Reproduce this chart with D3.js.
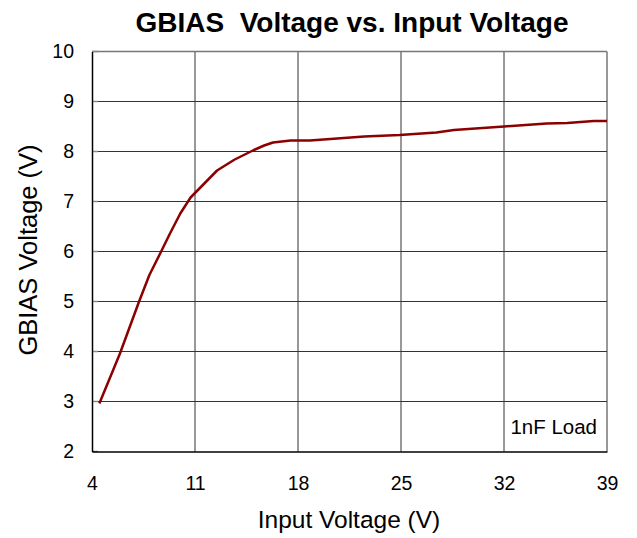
<!DOCTYPE html>
<html>
<head>
<meta charset="utf-8">
<script src="https://cdn.jsdelivr.net/npm/d3@7"></script>
<style>
  body { margin: 0; background: #fff; }
  text { font-family: Arial, "Liberation Sans", sans-serif; fill: #000; }
</style>
</head>
<body>
<div class="chart-wrapper"></div>
<script>
// values
const inputVoltage = [4.5, 5.9, 7.2, 7.9, 8.7, 9.3, 10.0, 10.7, 12.5, 13.7, 15.0, 15.7, 16.3, 17.5, 18.8, 20.2, 22.5, 24.9, 27.4, 28.6, 32.0, 34.9, 36.3, 38.1, 39.0]
const gbiasVoltage = [2.96, 3.96, 5.0, 5.53, 6.0, 6.36, 6.76, 7.08, 7.62, 7.84, 8.03, 8.12, 8.18, 8.22, 8.22, 8.25, 8.30, 8.33, 8.38, 8.43, 8.50, 8.56, 8.57, 8.61, 8.61]
const xTicks = [4, 11, 18, 25, 32, 39]
const yTicks = [2, 3, 4, 5, 6, 7, 8, 9, 10]

const W = 637, H = 538
const margin = {top: 51.5, right: 30, bottom: 86.5, left: 92}
const width = W - margin.left - margin.right
const height = H - margin.top - margin.bottom

let svg = d3.select('.chart-wrapper').append('svg')
.attr('width', W)
.attr('height', H)

let x = d3.scaleLinear().domain([4, 39]).range([0, width])
let y = d3.scaleLinear().domain([2, 10]).range([height, 0])

let g = svg.append('g')
.attr('transform', `translate(${margin.left},${margin.top})`)

// grid
g.append('g')
.selectAll('line')
.data(xTicks.slice(1))
.enter()
.append('line')
.attr('x1', d => x(d)).attr('x2', d => x(d))
.attr('y1', 0).attr('y2', height)
.attr('stroke', '#333')
.attr('stroke-width', 1)

g.append('g')
.selectAll('line')
.data(yTicks.slice(1, -1))
.enter()
.append('line')
.attr('x1', 0).attr('x2', width)
.attr('y1', d => y(d)).attr('y2', d => y(d))
.attr('stroke', '#333')
.attr('stroke-width', 1)

// top border
g.append('line')
.attr('x1', 0).attr('x2', width)
.attr('y1', 0).attr('y2', 0)
.attr('stroke', '#777')
.attr('stroke-width', 1.5)

// small inner tick marks on the left axis
g.append('g')
.selectAll('line')
.data(yTicks)
.enter()
.append('line')
.attr('x1', 0).attr('x2', 6)
.attr('y1', d => y(d)).attr('y2', d => y(d))
.attr('stroke', '#888')
.attr('stroke-width', 1.5)

// axes
let yAxis = g.append('g')
.call(d3.axisLeft(y).tickValues(yTicks).tickSize(0).tickPadding(18).tickFormat(d3.format('d')))
yAxis.select('.domain').attr('stroke', '#000').attr('stroke-width', 1.5)
yAxis.selectAll('text').style('font-size', '19.5px').attr('font-family', null)

let xAxis = g.append('g')
.attr('transform', `translate(0,${height})`)
.call(d3.axisBottom(x).tickValues(xTicks).tickSize(0).tickPadding(25).tickFormat(d3.format('d')))
xAxis.select('.domain').attr('stroke', '#000').attr('stroke-width', 1.5)
xAxis.selectAll('text').style('font-size', '19.5px').attr('font-family', null)

// the curve
let line = d3.line()
.x((d, i) => x(inputVoltage[i]))
.y(d => y(d))

g.append('path')
.datum(gbiasVoltage)
.attr('d', line)
.attr('fill', 'none')
.attr('stroke', '#8b0000')
.attr('stroke-width', 2.5)
.attr('stroke-linejoin', 'round')

// labels
svg.append('text')
.attr('x', 352).attr('y', 32)
.attr('text-anchor', 'middle')
.style('font-size', '28px')
.style('font-weight', 'bold')
.style('white-space', 'pre')
.text('GBIAS  Voltage vs. Input Voltage')

svg.append('text')
.attr('x', 349).attr('y', 528)
.attr('text-anchor', 'middle')
.style('font-size', '24.5px')
.text('Input Voltage (V)')

svg.append('text')
.attr('transform', 'translate(37,250) rotate(-90)')
.attr('text-anchor', 'middle')
.style('font-size', '25.5px')
.text('GBIAS Voltage (V)')

svg.append('text')
.attr('x', 597).attr('y', 434)
.attr('text-anchor', 'end')
.style('font-size', '20.5px')
.text('1nF Load')
</script>
</body>
</html>
